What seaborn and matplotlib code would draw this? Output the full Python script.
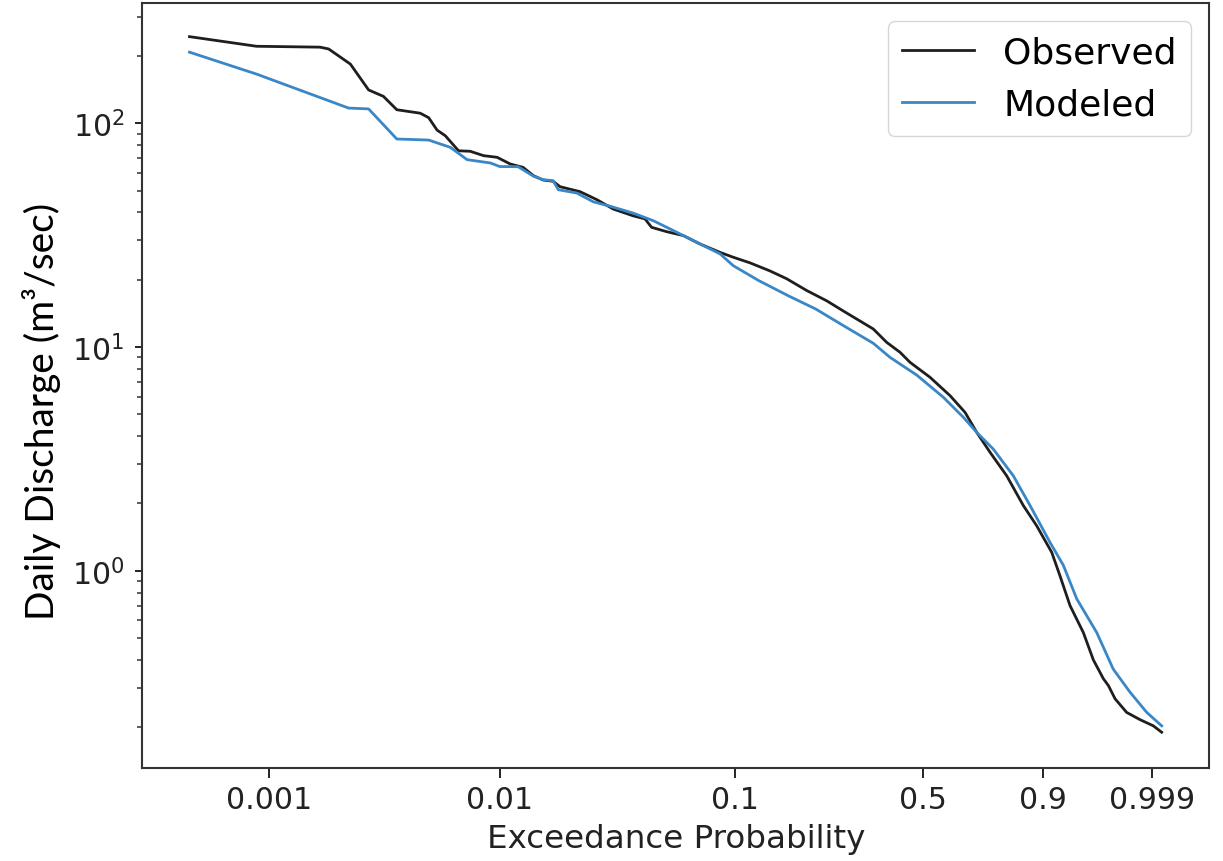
import numpy as np
import pandas as pd
import matplotlib
matplotlib.use("Agg")
import matplotlib.pyplot as plt
import seaborn as sns

# ---- data ----
obs_prob = [0.00045, 0.00088, 0.00166, 0.00181, 0.00225, 0.0027, 0.00313, 0.00358,
            0.00452, 0.00492, 0.00535, 0.00581, 0.00663, 0.00745, 0.00851, 0.00974,
            0.0111, 0.0126, 0.0140, 0.0154, 0.0170, 0.0182, 0.0222, 0.0262, 0.0308,
            0.0375, 0.0421, 0.0449, 0.0520, 0.0612, 0.0719, 0.0871, 0.0989, 0.1157,
            0.1395, 0.1628, 0.1951, 0.2329, 0.2688, 0.3447, 0.3833, 0.4244, 0.4569,
            0.5256, 0.5979, 0.6531, 0.6958, 0.7432, 0.7995, 0.8500, 0.8858, 0.9197,
            0.9354, 0.9516, 0.9686, 0.9782, 0.9854, 0.9883, 0.9914, 0.9952, 0.9978,
            0.99906, 0.99949]
obs_flow = [244, 221, 219, 215, 184, 141, 132, 115, 111, 106, 93.3, 88.0, 75.4, 75.0,
            71.7, 70.5, 65.8, 63.6, 58.3, 55.8, 55.1, 52.1, 49.5, 45.6, 41.4, 38.6,
            37.4, 34.3, 32.8, 31.5, 28.9, 26.5, 25.2, 23.8, 21.9, 20.2, 17.9, 16.1,
            14.5, 12.05, 10.5, 9.48, 8.55, 7.33, 6.07, 5.11, 4.16, 3.39, 2.66, 1.96,
            1.59, 1.21, 0.95, 0.70, 0.53, 0.40, 0.33, 0.307, 0.268, 0.233, 0.216,
            0.203, 0.190]

mod_prob = [0.00045, 0.00088, 0.00221, 0.0027, 0.00358, 0.00492, 0.00611, 0.00722,
            0.00911, 0.0100, 0.0120, 0.0140, 0.0154, 0.0170, 0.0179, 0.0215, 0.0253,
            0.0299, 0.0375, 0.0457, 0.0574, 0.0719, 0.0871, 0.0989, 0.1259, 0.1662,
            0.2114, 0.2743, 0.3447, 0.3932, 0.4794, 0.5734, 0.6468, 0.6958, 0.7547,
            0.8204, 0.8686, 0.9162, 0.9411, 0.9608, 0.9809, 0.9906, 0.9960, 0.99854,
            0.99949]
mod_flow = [208, 166, 117, 116, 85.1, 84.2, 78.1, 68.8, 66.5, 64.1, 64.0, 58.0, 56.0,
            55.4, 50.5, 48.8, 44.6, 42.6, 39.7, 36.7, 32.6, 28.9, 26.1, 23.1, 19.8,
            16.9, 14.8, 12.3, 10.4, 9.0, 7.5, 5.97, 4.86, 4.16, 3.50, 2.66, 1.96,
            1.34, 1.06, 0.75, 0.53, 0.364, 0.287, 0.233, 0.203]

series_names = ["Observed", "Modeled"]
series_colors = ["#1e1e1e", "#3a87c7"]
x_ticks = [0.001, 0.01, 0.1, 0.5, 0.9, 0.999]
x_tick_labels = ["0.001", "0.01", "0.1", "0.5", "0.9", "0.999"]

df = pd.concat([
    pd.DataFrame({"prob": obs_prob, "flow": obs_flow, "series": series_names[0]}),
    pd.DataFrame({"prob": mod_prob, "flow": mod_flow, "series": series_names[1]}),
], ignore_index=True)

# Weibull (log-log) probability scale
def fwd(p):
    p = np.clip(np.asarray(p, dtype=float), 1e-12, 1 - 1e-12)
    return np.log(-np.log1p(-p))

def inv(w):
    w = np.asarray(w, dtype=float)
    return -np.expm1(-np.exp(w))

fig = plt.figure(figsize=(12.23, 8.62), dpi=100)
ax = fig.add_axes([0.1164, 0.1079, 0.8722, 0.8870])

sns.lineplot(data=df, x="prob", y="flow", hue="series", hue_order=series_names,
             palette=series_colors, estimator=None, sort=True, linewidth=2.0, ax=ax)

ax.set_xscale("function", functions=(fwd, inv))
ax.set_yscale("log")
ax.set_xlim(inv(-8.178), inv(2.50))
ax.set_ylim(10 ** -0.881, 10 ** 2.536)

ax.set_xticks(x_ticks)
ax.set_xticklabels(x_tick_labels)
ax.xaxis.set_minor_locator(matplotlib.ticker.NullLocator())

for s in ax.spines.values():
    s.set_color("#333333")
    s.set_linewidth(1.5)

ax.tick_params(axis="x", which="major", length=7.5, width=1.4, pad=5,
               labelsize=21.6, colors="#222222")
ax.tick_params(axis="y", which="major", length=5, width=1.4, pad=8,
               labelsize=21.6, colors="#222222")
ax.tick_params(axis="y", which="minor", length=3.5, width=1.1, colors="#333333")

ax.set_xlabel("Exceedance Probability", fontsize=23.4, color="#222222", labelpad=6)
ax.set_ylabel("")
fig.text(0.034, 1 - 411 / 862, "Daily Discharge (m³/sec)", rotation=90,
         ha="center", va="center", fontsize=28, family=["Lato", "DejaVu Sans"],
         color="black")

handles, labels = ax.get_legend_handles_labels()
ax.legend(handles, labels, loc="upper right", fontsize=26, frameon=True,
          handlelength=2.0)

fig.savefig("out.png", dpi=100)
